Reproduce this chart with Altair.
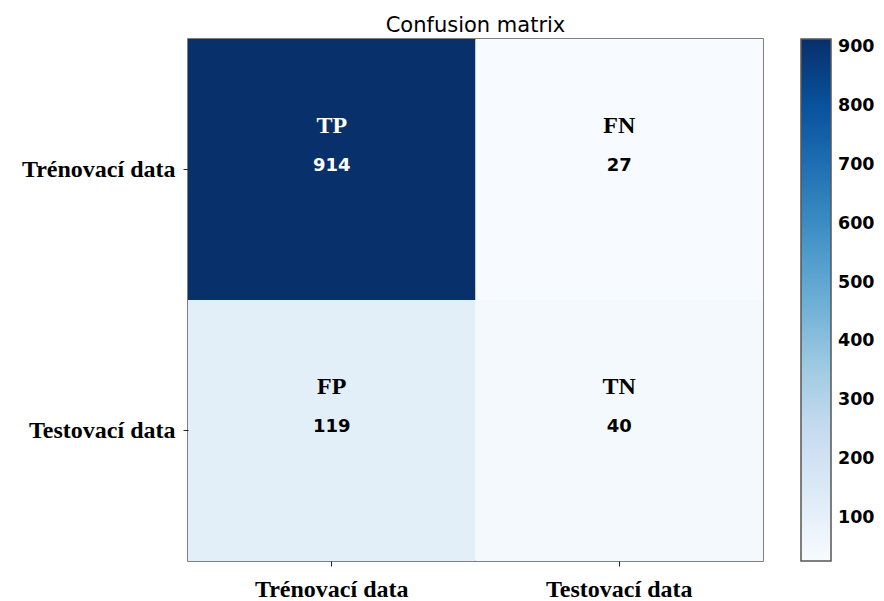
import altair as alt
import pandas as pd
import numpy as np

rows = ["Trénovací data", "Testovací data"]
cols = ["Trénovací data", "Testovací data"]
values = [[914, 27], [119, 40]]
labels = [["TP", "FN"], ["FP", "TN"]]
legend_ticks = [100, 200, 300, 400, 500, 600, 700, 800, 900]
blues = ["#f7fbff", "#deebf7", "#c6dbef", "#9ecae1", "#6baed6",
         "#4292c6", "#2171b5", "#08519c", "#08306b"]

recs = []
for i, r in enumerate(rows):
    for j, c in enumerate(cols):
        recs.append({"row": r, "col": c, "value": values[i][j], "label": labels[i][j],
                     "ri": i, "ci": j})
df = pd.DataFrame(recs)

vmin = min(min(v) for v in values)
vmax = max(max(v) for v in values)
stops = [float(s) for s in np.linspace(vmin, vmax, len(blues))]

W, H = 575, 522

xenc = alt.X("ci:O", axis=alt.Axis(
    title=None, labelExpr="datum.value == 0 ? 'Trénovací data' : 'Testovací data'",
    labelAngle=0, labelFont="Liberation Serif", labelFontWeight="bold",
    labelFontSize=24, labelColor="black", tickColor="#222", tickSize=5,
    labelPadding=11, domain=False))
yenc = alt.Y("ri:O", axis=alt.Axis(
    title=None, labelExpr="datum.value == 0 ? 'Trénovací data' : 'Testovací data'",
    labelFont="Liberation Serif", labelFontWeight="bold",
    labelFontSize=24, labelColor="black", tickColor="#222", tickSize=5,
    labelPadding=8, domain=False))

base = alt.Chart(df).encode(x=xenc, y=yenc)

rect = base.mark_rect().encode(
    color=alt.Color("value:Q",
                    scale=alt.Scale(domain=stops, range=blues, interpolate="rgb"),
                    legend=alt.Legend(
                        title=None, orient="none", legendX=W + 38, legendY=0,
                        direction="vertical", gradientLength=H, gradientThickness=30,
                        gradientStrokeColor="#555", gradientStrokeWidth=1.5,
                        values=legend_ticks, labelFont="DejaVu Sans",
                        labelFontWeight="bold", labelFontSize=17.5, labelColor="black",
                        labelOffset=7, labelOverlap=False))
)

color_cond = alt.condition(alt.datum.value > (vmin + vmax) / 2,
                           alt.value("white"), alt.value("black"))

lab = base.mark_text(font="Liberation Serif", fontWeight="bold", fontSize=24,
                     baseline="alphabetic", dy=-37).encode(
    text="label:N", color=color_cond)
num = base.mark_text(font="DejaVu Sans", fontWeight="bold", fontSize=18,
                     baseline="alphabetic", dy=1).encode(
    text="value:Q", color=color_cond)

chart = alt.layer(rect, lab, num).properties(
    width=W, height=H,
    title=alt.TitleParams("Confusion matrix", font="DejaVu Sans", fontSize=21,
                          fontWeight="normal", color="black", offset=3,
                          anchor="middle"),
    autosize=alt.AutoSizeParams(type="none"),
    padding={"left": 180, "top": 31, "right": 113, "bottom": 44},
).configure_view(stroke="#555", strokeWidth=1.5)

chart.save("out.html", embed_options={"renderer": "svg", "actions": False})
